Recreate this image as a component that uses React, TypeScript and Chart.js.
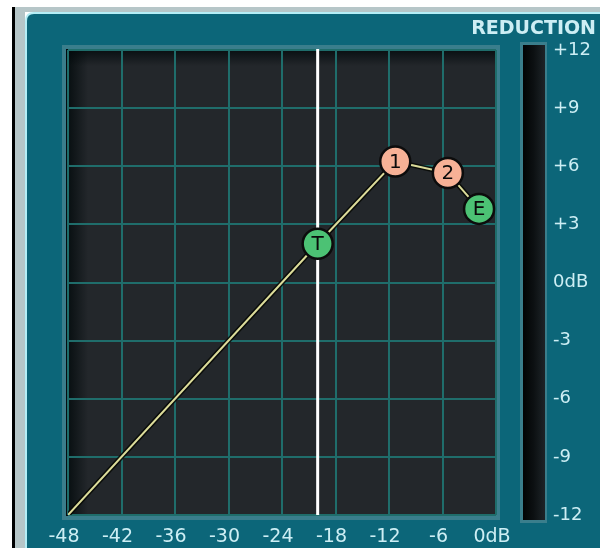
import React, { useEffect, useRef } from "react";
import { Chart, registerables } from "chart.js";

Chart.register(...registerables);

// ---- data ----
const inputDb = [-48, -20, -11.3, -5.4, -1.9];
const outputDb = [-48, -20, -11.5, -12.7, -16.4];
const nodeLabels = ["", "T", "1", "2", "E"];
const nodeKinds = ["none", "green", "salmon", "salmon", "green"];
const thresholdDb = -20;
const xTickValues = [-48, -42, -36, -30, -24, -18, -12, -6, 0];
const xTickLabels = ["-48", "-42", "-36", "-30", "-24", "-18", "-12", "-6", "0dB"];
const meterTickValues = [12, 9, 6, 3, 0, -3, -6, -9, -12];
const meterTickLabels = ["+12", "+9", "+6", "+3", "0dB", "-3", "-6", "-9", "-12"];
const meterTitle = "REDUCTION";

const TEAL = "#0c6679";
const RIM = "#3a7e8c";
const GRID = "#1f6d6b";
const LABEL = "#cdeef4";
const FONT = "'DejaVu Sans', sans-serif";

function roundRect(ctx: CanvasRenderingContext2D, x: number, y: number, w: number, h: number, r: number) {
  ctx.beginPath();
  ctx.moveTo(x + r, y);
  ctx.lineTo(x + w, y);
  ctx.lineTo(x + w, y + h);
  ctx.lineTo(x, y + h);
  ctx.lineTo(x, y + r);
  ctx.quadraticCurveTo(x, y, x + r, y);
  ctx.closePath();
}

const panelPlugin = {
  id: "panel",
  beforeDraw(chart: any) {
    const { ctx, chartArea: a } = chart;
    const W = chart.width, H = chart.height;
    ctx.save();
    ctx.fillStyle = "#ffffff";
    ctx.fillRect(0, 0, W, H);
    // window edge
    ctx.fillStyle = "#000000";
    ctx.fillRect(12, 7, 3, H - 7);
    ctx.fillStyle = "#b6c6c8";
    ctx.fillRect(15, 7, 10, H - 7);
    ctx.fillRect(15, 7, W - 15, 5);
    // panel
    ctx.fillStyle = "#b4eef6";
    roundRect(ctx, 25, 12, W - 25, H - 12, 9);
    ctx.fill();
    ctx.fillStyle = TEAL;
    roundRect(ctx, 27, 14, W - 27, H - 14, 7);
    ctx.fill();
    // plot rim + dark area
    ctx.fillStyle = RIM;
    ctx.fillRect(a.left - 6, a.top - 5, a.right - a.left + 10, a.bottom - a.top + 10);
    ctx.fillStyle = "#23272b";
    ctx.fillRect(a.left - 2, a.top - 1, a.right - a.left + 1, a.bottom - a.top + 2);
    let g = ctx.createLinearGradient(a.left - 2, 0, a.left + 20, 0);
    g.addColorStop(0, "rgba(0,8,10,0.85)");
    g.addColorStop(1, "rgba(0,8,10,0)");
    ctx.fillStyle = g;
    ctx.fillRect(a.left - 2, a.top - 1, 22, a.bottom - a.top + 2);
    g = ctx.createLinearGradient(0, a.top - 1, 0, a.top + 16);
    g.addColorStop(0, "rgba(0,8,10,0.8)");
    g.addColorStop(1, "rgba(0,8,10,0)");
    ctx.fillStyle = g;
    ctx.fillRect(a.left - 2, a.top - 1, a.right - a.left + 1, 17);
    // reduction meter
    const mx = 520, mw = 27;
    ctx.fillStyle = RIM;
    ctx.fillRect(mx, a.top - 8, mw, a.bottom - a.top + 16);
    g = ctx.createLinearGradient(mx + 3, 0, mx + mw - 3, 0);
    g.addColorStop(0, "#020304");
    g.addColorStop(0.5, "#0c1012");
    g.addColorStop(1, "#1c2226");
    ctx.fillStyle = g;
    ctx.fillRect(mx + 3, a.top - 5, mw - 5, a.bottom - a.top + 10);
    // title
    ctx.fillStyle = LABEL;
    ctx.font = `bold 19px ${FONT}`;
    ctx.textAlign = "right";
    ctx.textBaseline = "middle";
    ctx.fillText(meterTitle, 596, 29);
    ctx.restore();
  },
  beforeDatasetsDraw(chart: any) {
    const { ctx, chartArea: a } = chart;
    const x = chart.scales.x.getPixelForValue(thresholdDb);
    ctx.save();
    ctx.strokeStyle = "#ffffff";
    ctx.lineWidth = 3;
    ctx.beginPath();
    ctx.moveTo(x, a.top - 1);
    ctx.lineTo(x, a.bottom);
    ctx.stroke();
    ctx.restore();
  },
  afterDatasetsDraw(chart: any) {
    const { ctx } = chart;
    const meta = chart.getDatasetMeta(2);
    ctx.save();
    ctx.fillStyle = "#0a0a0a";
    ctx.font = `20px ${FONT}`;
    ctx.textAlign = "center";
    ctx.textBaseline = "middle";
    meta.data.forEach((el: any, i: number) => {
      if (nodeLabels[i]) ctx.fillText(nodeLabels[i], el.x, el.y + 1);
    });
    ctx.restore();
  },
};

export default function App() {
  const ref = useRef<HTMLCanvasElement | null>(null);
  useEffect(() => {
    const pts = inputDb.map((x, i) => ({ x, y: outputDb[i] }));
    const fill = nodeKinds.map((k) => (k === "green" ? "#4cc274" : k === "salmon" ? "#f7b196" : "rgba(0,0,0,0)"));
    const radius = nodeKinds.map((k) => (k === "none" ? 0 : 15));
    const chart = new Chart(ref.current as HTMLCanvasElement, {
      type: "scatter",
      data: {
        datasets: [
          { data: pts, order: 3, showLine: true, borderColor: "rgba(6,8,4,0.85)", borderWidth: 5, pointRadius: 0 },
          { data: pts, order: 2, showLine: true, borderColor: "#dcdc9a", borderWidth: 2, pointRadius: 0 },
          {
            data: pts,
            order: 1,
            showLine: false,
            pointRadius: radius,
            pointBackgroundColor: fill,
            pointBorderColor: "#0c0c0c",
            pointBorderWidth: 2.5,
          },
        ],
      } as any,
      options: {
        responsive: false,
        animation: false,
        layout: { padding: { top: 50, left: 0, right: 0, bottom: 0 } },
        plugins: { legend: { display: false }, tooltip: { enabled: false } },
        scales: {
          x: {
            type: "linear",
            min: -48,
            max: 0,
            afterBuildTicks: (s: any) => {
              s.ticks = xTickValues.map((v) => ({ value: v }));
            },
            afterFit: (s: any) => {
              s.height = 33;
            },
            ticks: {
              color: LABEL,
              font: { family: FONT, size: 19 },
              padding: 11,
              labelOffset: -4,
              maxRotation: 0,
              autoSkip: false,
              callback: (v: any) => xTickLabels[xTickValues.indexOf(Number(v))],
            },
            grid: { color: GRID, lineWidth: 2, drawTicks: false },
            border: { display: false },
          },
          y: {
            type: "linear",
            min: -48,
            max: 0,
            ticks: { stepSize: 6, display: false },
            afterFit: (s: any) => {
              s.width = 68;
            },
            grid: { color: GRID, lineWidth: 2, drawTicks: false },
            border: { display: false },
          },
          y2: {
            type: "linear",
            position: "right",
            min: -12,
            max: 12,
            afterBuildTicks: (s: any) => {
              s.ticks = meterTickValues.map((v) => ({ value: v }));
            },
            afterFit: (s: any) => {
              s.width = 104;
            },
            ticks: {
              color: LABEL,
              font: { family: FONT, size: 18 },
              padding: 0,
              autoSkip: false,
              callback: (v: any) => meterTickLabels[meterTickValues.indexOf(Number(v))],
            },
            grid: { display: false, drawTicks: true, tickLength: 57 },
            border: { display: false },
          },
        },
      } as any,
      plugins: [panelPlugin],
    });
    return () => chart.destroy();
  }, []);
  return (
    <div style={{ position: "absolute", left: 0, top: 0, width: 600, height: 548 }}>
      <canvas ref={ref} width={600} height={548} />
    </div>
  );
}
